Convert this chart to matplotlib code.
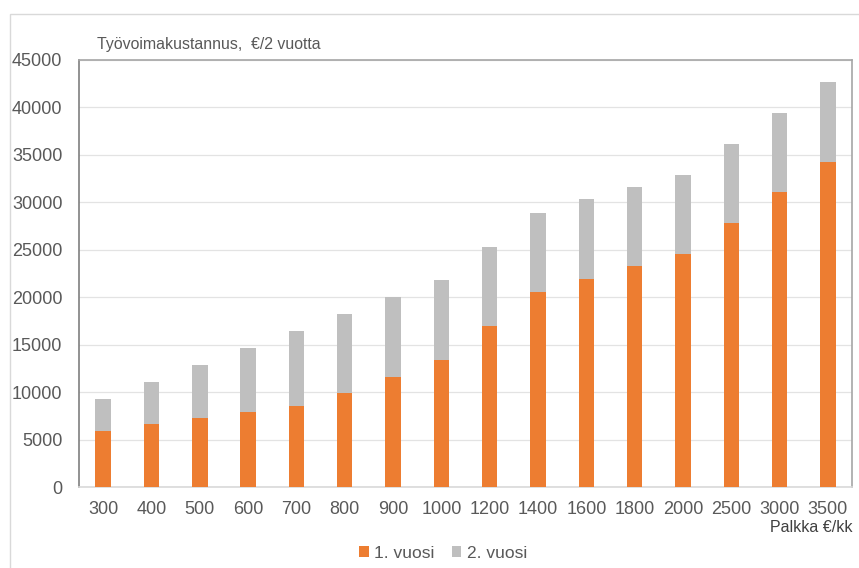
import matplotlib.pyplot as plt
import matplotlib.patches as patches
import numpy as np

## Data

palkka = ['300', '400', '500', '600', '700', '800', '900', '1000', '1200',
          '1400', '1600', '1800', '2000', '2500', '3000', '3500']
vuosi1 = [5900, 6600, 7250, 7900, 8500, 9880, 11600, 13400, 16970,
          20550, 21950, 23290, 24520, 27790, 31090, 34250]
yhteensa = [9270, 11080, 12900, 14650, 16440, 18230, 19980, 21770, 25320,
            28840, 30350, 31580, 32910, 36180, 39440, 42640]
vuosi2 = [t - a for t, a in zip(yhteensa, vuosi1)]

## Kuva

plt.rcParams['font.family'] = ['Liberation Sans', 'DejaVu Sans']
oranssi = '#ED7D31'
harmaa = '#BFBFBF'
teksti = '#595959'

fig = plt.figure(figsize=(8.59, 5.68), dpi=100)
ax = fig.add_axes([0.092, 0.1426, 0.8999, 0.7518])

x = np.arange(len(palkka))
ax.bar(x, vuosi1, width=0.32, color=oranssi, label='1. vuosi', zorder=3)
ax.bar(x, vuosi2, width=0.32, bottom=vuosi1, color=harmaa, label='2. vuosi', zorder=3)

ax.set_xlim(-0.5, len(palkka) - 0.5)
ax.set_ylim(0, 45000)
ax.set_yticks(np.arange(0, 45001, 5000))
ax.set_xticks(x)
ax.set_xticklabels(palkka)
ax.tick_params(length=0, labelsize=13, colors=teksti)
ax.tick_params(axis='x', pad=10)
ax.tick_params(axis='y', pad=12)
ax.yaxis.grid(True, color='#E3E3E3', linewidth=0.9, zorder=0)

ax.spines['left'].set_color('#7F7F7F')
ax.spines['top'].set_color('#A6A6A6')
ax.spines['right'].set_color('#A6A6A6')
ax.spines['bottom'].set_color('#D9D9D9')
for s in ax.spines.values():
    s.set_linewidth(1.2)

fig.text(97 / 859, 1 - 44 / 568, 'Työvoimakustannus,  €/2 vuotta',
         fontsize=11.4, color=teksti, va='center', ha='left')
fig.text(852 / 859, 1 - 527 / 568, 'Palkka €/kk',
         fontsize=11.5, color='#404040', va='center', ha='right')

leg = fig.legend(loc='center', bbox_to_anchor=(443 / 859, 1 - 553 / 568), ncol=2,
                 frameon=False, fontsize=12.5, handlelength=0.55, handleheight=0.55,
                 handletextpad=0.3, columnspacing=1.0)
for t in leg.get_texts():
    t.set_color(teksti)

# ohut kehys kuvan ympärillä
fig.add_artist(patches.Rectangle((10 / 859, -0.01), 1.0, 1 - 14 / 568 + 0.01,
                                 transform=fig.transFigure, fill=False,
                                 edgecolor='#D9D9D9', linewidth=1))

fig.savefig('out.png', dpi=100)
